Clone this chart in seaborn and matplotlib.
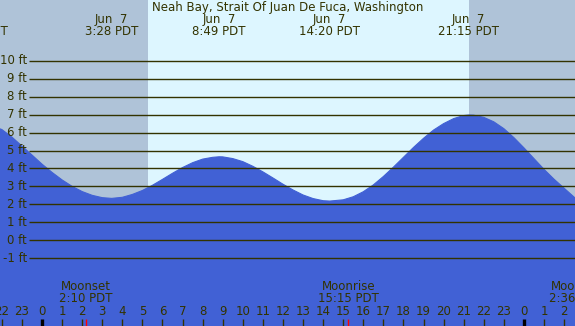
import numpy as np
import pandas as pd
import seaborn as sns
import matplotlib.pyplot as plt
import matplotlib.transforms as mtransforms

# tide heights (hours from midnight Jun 7, feet)
tide_hours = [-2.2, -2, -1.5, -1, -0.5, 0, 0.5, 1, 1.5, 2, 2.5, 3, 3.47, 4, 4.5, 5, 5.5,
              6, 6.5, 7, 7.5, 8, 8.5, 8.82, 9, 9.5, 10, 10.5, 11, 11.5, 12, 12.5, 13,
              13.5, 14, 14.33, 15, 15.5, 16, 16.5, 17, 17.5, 18, 18.5, 19, 19.5, 20,
              20.5, 21, 21.25, 21.5, 22, 22.5, 23, 23.5, 24, 24.5, 25, 25.5, 26, 26.6]
tide_ft = [6.25, 6.17, 5.75, 5.25, 4.75, 4.24, 3.78, 3.36, 3.00, 2.71, 2.50, 2.37, 2.33,
           2.39, 2.55, 2.77, 3.06, 3.39, 3.73, 4.05, 4.32, 4.52, 4.62, 4.65, 4.645, 4.55,
           4.38, 4.12, 3.81, 3.47, 3.12, 2.80, 2.52, 2.32, 2.20, 2.18, 2.25, 2.42, 2.70,
           3.08, 3.55, 4.07, 4.62, 5.17, 5.68, 6.14, 6.50, 6.78, 6.95, 6.98, 6.97, 6.85,
           6.60, 6.22, 5.72, 5.15, 4.55, 3.95, 3.40, 2.90, 2.30]

# high / low tide labels
extreme_hours = [-3.2, 3.47, 8.82, 14.33, 21.25]
extreme_dates = ['Jun  6', 'Jun  7', 'Jun  7', 'Jun  7', 'Jun  7']
extreme_times = ['20:48 PDT', '3:28 PDT', '8:49 PDT', '14:20 PDT', '21:15 PDT']

# moon events
moon_hours = [2.17, 15.25, 26.6]
moon_names = ['Moonset', 'Moonrise', 'Moonset']
moon_times = ['2:10 PDT', '15:15 PDT', '2:36 PDT']

sunrise, sunset = 5.28, 21.27
foot_levels = list(range(-1, 11))
hour_ticks = list(range(-2, 27))

night = '#afc3d8'
day = '#ddf6ff'
water = '#4161d5'
ink = '#333300'
fs = 8.5

W, H = 575, 326
x0, px_hr = 42, 20.08
y2ft, px_ft = 204.3, 17.93

fig = plt.figure(figsize=(W / 100, H / 100), dpi=100)
ax = fig.add_axes([0, 0, 1, 1])
ax.set_xlim(-x0 / px_hr, (W - x0) / px_hr)
ax.set_ylim(2 - (H - y2ft) / px_ft, 2 + y2ft / px_ft)
ax.axis('off')
fig.patch.set_facecolor(night)
ax.add_patch(plt.Rectangle((0, 0), 1, 1, transform=ax.transAxes, color=night, zorder=0))
ax.axvspan(sunrise, sunset, color=day, zorder=1, lw=0)

df = pd.DataFrame({'hour': tide_hours, 'ft': tide_ft})
ax.fill_between(df['hour'], -10, df['ft'], color=water, lw=0, zorder=2)
sns.lineplot(data=df, x='hour', y='ft', color=water, lw=0.8, ax=ax, zorder=2)

# foot grid lines and labels
xstart = (29 - x0) / px_hr
ax.hlines(foot_levels, xstart, ax.get_xlim()[1], color=ink, lw=1.0, zorder=3)
for f in foot_levels:
    ax.text((27 - x0) / px_hr, f, f'{f} ft', ha='right', va='center',
            fontsize=fs, color=ink, zorder=4)

fy = lambda ypx: 1 - ypx / H
tr = mtransforms.blended_transform_factory(ax.transData, fig.transFigure)

ax.text(0.5, fy(7), 'Neah Bay, Strait Of Juan De Fuca, Washington', transform=fig.transFigure,
        ha='center', va='center', fontsize=fs, color=ink)
for h, d, t in zip(extreme_hours, extreme_dates, extreme_times):
    ax.text(h, fy(19.5), d, transform=tr, ha='center', va='center', fontsize=fs, color=ink)
    ax.text(h, fy(31.5), t, transform=tr, ha='center', va='center', fontsize=fs, color=ink)

for h, n, t in zip(moon_hours, moon_names, moon_times):
    ax.text(h, fy(286.5), n, transform=tr, ha='center', va='center', fontsize=fs, color=ink)
    ax.text(h, fy(299), t, transform=tr, ha='center', va='center', fontsize=fs, color=ink)
    ax.vlines(h, fy(326), fy(318.5), transform=tr, color='red', lw=1.0, zorder=5)

for h in hour_ticks:
    ax.text(h, fy(311.5), str(h % 24), transform=tr, ha='center', va='center',
            fontsize=fs, color=ink)
    if h % 24 == 0:
        ax.vlines(h, fy(326), fy(318.5), transform=tr, color='black', lw=2.4, zorder=5)
    else:
        ax.vlines(h, fy(326), fy(318.5), transform=tr, color=ink, lw=1.0, zorder=5)

fig.savefig('out.png', dpi=100, facecolor=night)
